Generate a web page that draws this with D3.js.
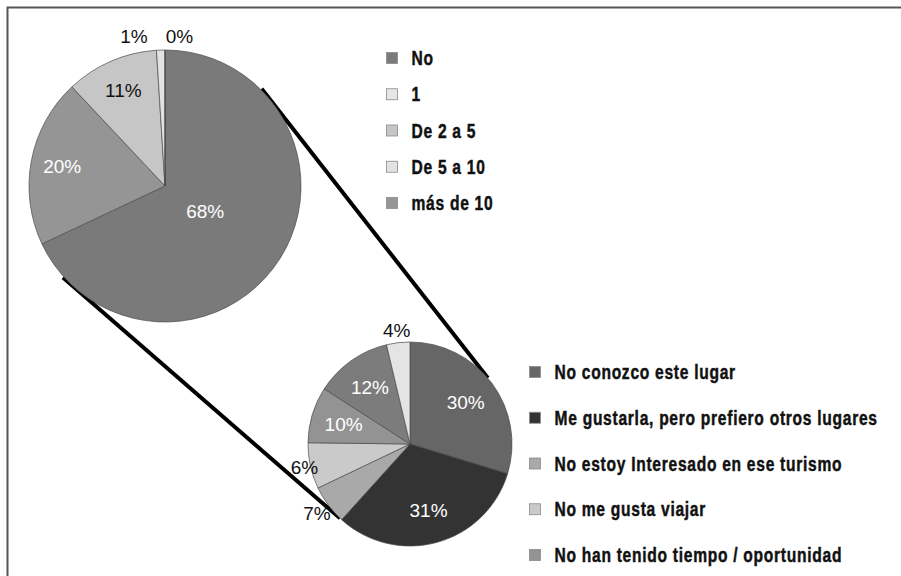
<!DOCTYPE html>
<html>
<head>
<meta charset="utf-8">
<script src="https://cdn.jsdelivr.net/npm/d3@7/dist/d3.min.js"></script>
<style>
  body { margin: 0; background: #fff; }
  svg { display: block; }
  .lbl { font-family: "Liberation Sans", Arial, sans-serif; font-size: 19px; }
  .leg { font-family: "Liberation Sans", Arial, sans-serif; font-weight: bold; font-size: 19.5px; letter-spacing: 0.9px; fill: #111; stroke: #111; stroke-width: 0.45px; }
</style>
</head>
<body>
<div id="chart"></div>
<script>
// upper pie: legend order
var topCats = ["No", "1", "De 2 a 5", "De 5 a 10", "más de 10"];
var topValues = [68, 0, 11, 1, 20];
var topColors = ["#7a7a7a", "#e6e6e6", "#c6c6c6", "#e2e2e2", "#959595"];
var topDrawOrder = [0, 4, 2, 3, 1]; // clockwise from 12 o'clock

// lower pie: 7 slices, only the first 5 are named in the visible legend
var bottomCats = ["No conozco este lugar", "Me gustarla, pero prefiero otros lugares",
  "No estoy Interesado en ese turismo", "No me gusta viajar", "No han tenido tiempo / oportunidad"];
var bottomValues = [29.7, 32.0, 6.2, 7.3, 8.9, 12.2, 3.7];
var bottomLabels = ["30%", "31%", "7%", "6%", "10%", "12%", "4%"];
var bottomColors = ["#666666", "#333333", "#a9a9a9", "#cacaca", "#939393", "#7c7c7c", "#e4e4e4"];

var W = 901, H = 576;
var svg = d3.select("#chart").append("svg").attr("width", W).attr("height", H);

// frame (top and left edges are visible)
svg.append("path")
  .attr("d", "M7.5," + H + "V7.5H" + W)
  .attr("fill", "none").attr("stroke", "#555").attr("stroke-width", 2);

var pieA = { cx: 165, cy: 186, r: 136 };
var pieB = { cx: 410, cy: 444, r: 102 };

// connector lines: external tangents of the two circles
(function () {
  var dx = pieB.cx - pieA.cx, dy = pieB.cy - pieA.cy;
  var d = Math.sqrt(dx * dx + dy * dy);
  var phi = Math.atan2(dy, dx);
  var th = Math.acos((pieA.r - pieB.r) / d);
  [-th, th].forEach(function (t) {
    var nx = Math.cos(phi + t), ny = Math.sin(phi + t);
    var p1 = [pieA.cx + pieA.r * nx, pieA.cy + pieA.r * ny];
    var p2 = [pieB.cx + pieB.r * nx, pieB.cy + pieB.r * ny];
    var ux = (p2[0] - p1[0]), uy = (p2[1] - p1[1]);
    var ul = Math.sqrt(ux * ux + uy * uy);
    ux /= ul; uy /= ul;
    svg.append("line")
      .attr("x1", p1[0] - 17 * ux).attr("y1", p1[1] - 17 * uy)
      .attr("x2", p2[0] - 4 * ux).attr("y2", p2[1] - 4 * uy)
      .attr("stroke", "#000").attr("stroke-width", 4);
  });
})();

function drawPie(p, values, colors, labels, labelWhite, placement) {
  var g = svg.append("g").attr("transform", "translate(" + p.cx + "," + p.cy + ")");
  var arcs = d3.pie().sort(null).value(function (d) { return d; })(values);
  var arc = d3.arc().innerRadius(0).outerRadius(p.r);
  g.selectAll("path.slice")
    .data(arcs)
    .enter()
    .append("path")
    .attr("class", "slice")
    .attr("d", arc)
    .attr("fill", function (d, i) { return colors[i]; })
    .attr("stroke", "#4a4a4a")
    .attr("stroke-width", 0.7);

  var pos = arcs.map(function (a, i) {
    var pl = placement[i];
    var m = (a.startAngle + a.endAngle) / 2;
    var rr = pl.out ? p.r + pl.out : p.r * pl.k;
    return { x: rr * Math.sin(m), y: -rr * Math.cos(m), out: !!pl.out, i: i };
  });

  var texts = g.selectAll("text.lbl")
    .data(pos)
    .enter()
    .append("text")
    .attr("class", "lbl")
    .attr("text-anchor", "middle")
    .attr("fill", function (d) { return labelWhite[d.i] ? "#fff" : "#111"; })
    .attr("x", function (d) { return d.x; })
    .attr("y", function (d) { return d.y; })
    .attr("dy", "0.35em")
    .text(function (d) { return labels[d.i]; });

  // push apart outside labels that collide
  var outs = [];
  texts.each(function (d) { if (d.out) { d.w = this.getComputedTextLength(); d.node = this; outs.push(d); } });
  outs.sort(function (a, b) { return a.x - b.x; });
  for (var k = 1; k < outs.length; k++) {
    var a = outs[k - 1], b = outs[k];
    if (Math.abs(a.y - b.y) < 20) {
      var need = (a.w + b.w) / 2 + 18;
      var gap = b.x - a.x;
      if (gap < need) {
        var mid = (a.x + b.x) / 2 - 6;
        a.x = mid - need / 2; b.x = mid + need / 2;
        d3.select(a.node).attr("x", a.x);
        d3.select(b.node).attr("x", b.x);
      }
    }
  }
}

// upper pie, in drawing order
var topVals = topDrawOrder.map(function (i) { return topValues[i]; });
var topCols = topDrawOrder.map(function (i) { return topColors[i]; });
var topLbls = topVals.map(function (v) { return v + "%"; });
drawPie(pieA, topVals, topCols, topLbls,
  [true, true, false, false, false],
  [{ k: 0.35 }, { k: 0.77 }, { k: 0.77 }, { out: 14 }, { out: 14 }]);

drawPie(pieB, bottomValues, bottomColors, bottomLabels,
  [true, true, false, false, true, true, false],
  [{ k: 0.68 }, { k: 0.68 }, { out: 14 }, { out: 6 }, { k: 0.68 }, { k: 0.68 }, { out: 12 }]);

function addLegend(cats, colors, x, y0, y1) {
  var y = d3.scalePoint().domain(cats).range([y0, y1]);
  var g = svg.append("g");
  g.selectAll("rect")
    .data(cats)
    .enter()
    .append("rect")
    .attr("x", x)
    .attr("y", function (d) { return y(d) - 5.5; })
    .attr("width", 11)
    .attr("height", 11)
    .attr("fill", function (d, i) { return colors[i]; })
    .attr("stroke", "#8a8a8a")
    .attr("stroke-width", 0.8);
  // condensed bold: regular bold face squeezed horizontally
  g.selectAll("text")
    .data(cats)
    .enter()
    .append("text")
    .attr("class", "leg")
    .attr("transform", function (d) { return "translate(" + (x + 25) + "," + (y(d) + 7) + ") scale(0.8,1)"; })
    .text(function (d) { return d; });
}

addLegend(topCats, topColors, 386.5, 58, 203);
addLegend(bottomCats, bottomColors.slice(0, 5), 529.5, 372, 555);
</script>
</body>
</html>
